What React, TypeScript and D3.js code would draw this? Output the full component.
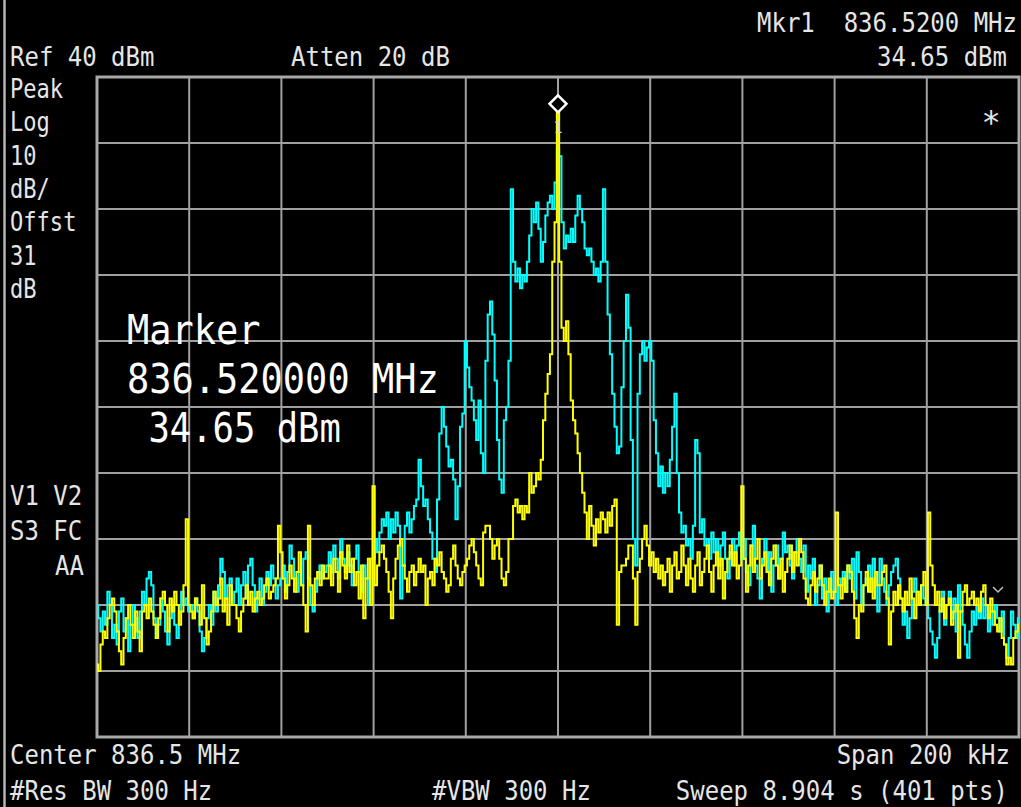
import React, { useEffect } from 'react';
import * as d3 from 'd3';

// ---- Data (dBm), 401 sweep points across 200 kHz span ----
const cyanTrace: number[] = [
  -40,-42,-44,-41,-43,-38,-40,-45,-43,-46,-41,-39,-44,-42,-47,-43,-40,-42,-45,-41,
  -38,-40,-36,-35,-37,-42,-45,-43,-39,-41,-44,-46,-42,-40,-43,-45,-41,-38,-40,-39,
  -41,-40,-42,-39,-41,-44,-47,-45,-42,-40,-43,-38,-41,-37,-33,-35,-39,-37,-36,-40,
  -38,-36,-40,-37,-35,-39,-34,-33,-37,-41,-39,-36,-40,-38,-35,-37,-34,-36,-39,-37,
  -36,-34,-38,-35,-31,-33,-36,-38,-35,-37,-33,-32,-36,-40,-41,-38,-36,-34,-36,-35,
  -34,-32,-35,-31,-33,-36,-30,-33,-35,-32,-34,-37,-33,-31,-35,-38,-34,-36,-40,-33,
  -33,-30,-32,-29,-27,-28,-26,-30,-27,-29,-26,-28,-39,-34,-28,-26,-29,-27,-25,-24,
  -18,-22,-25,-24,-27,-29,-33,-35,-24,-14,-10,-13,-16,-19,-18,-21,-27,-22,-13,-11,
  0,-4,-7,-9,-12,-15,-9,-17,-20,-3,4,6,1,-6,-15,-21,-23,-12,-10,-3,
  23,12,9,11,8,10,9,12,16,20,18,21,17,12,15,19,21,22,20,24,
  29,28,18,14,16,15,17,15,19,22,20,18,14,13,14,12,10,11,9,12,
  23,12,4,-2,-8,-13,-17,-16,-7,0,7,2,-15,-30,-34,-8,-2,0,-3,-1,
  0,-3,-12,-17,-22,-19,-23,-20,-22,-18,-13,-8,-20,-26,-29,-28,-31,-30,-33,-28,
  -15,-17,-29,-27,-31,-30,-33,-29,-32,-30,-34,-31,-29,-33,-36,-32,-30,-34,-31,-29,
  -33,-30,-35,-37,-31,-28,-34,-36,-39,-33,-30,-35,-32,-38,-34,-31,-36,-33,-29,-32,
  -31,-34,-36,-32,-30,-33,-35,-31,-38,-34,-36,-33,-40,-37,-34,-39,-36,-41,-38,-35,
  -38,-40,-36,-37,-35,-38,-34,-36,-33,-39,-32,-35,-40,-37,-36,-34,-38,-33,-35,-41,
  -33,-36,-38,-40,-37,-35,-34,-33,-36,-39,-43,-41,-45,-42,-38,-36,-38,-40,-37,-39,
  -40,-42,-44,-46,-48,-45,-41,-38,-43,-40,-38,-42,-39,-44,-37,-41,-43,-46,-48,-44,
  -41,-43,-40,-42,-39,-42,-40,-44,-41,-43,-40,-42,-44,-41,-46,-48,-45,-41,-43,-45,
  -42,
];

const yellowTrace: number[] = [
  -49,-50,-46,-44,-45,-42,-40,-39,-41,-44,-47,-49,-45,-42,-40,-43,-45,-41,-44,-47,
  -41,-40,-42,-39,-41,-43,-45,-42,-39,-38,-40,-44,-39,-41,-38,-40,-43,-41,-37,-27,
  -40,-41,-42,-39,-40,-43,-37,-42,-46,-44,-41,-38,-40,-39,-36,-41,-39,-43,-37,-40,
  -40,-42,-44,-41,-39,-37,-40,-38,-41,-39,-38,-40,-39,-37,-36,-39,-38,-37,-36,-28,
  -32,-36,-39,-37,-34,-36,-38,-35,-32,-37,-40,-44,-28,-37,-40,-36,-35,-37,-34,-36,
  -36,-34,-37,-33,-35,-38,-32,-34,-36,-31,-35,-33,-37,-35,-39,-34,-42,-36,-33,-40,
  -22,-37,-34,-32,-31,-33,-35,-38,-42,-36,-33,-31,-30,-34,-36,-38,-35,-34,-37,-35,
  -33,-35,-34,-40,-36,-35,-37,-33,-34,-32,-35,-36,-38,-37,-33,-31,-34,-36,-37,-35,
  -34,-33,-31,-30,-32,-34,-36,-37,-29,-28,-28,-30,-33,-31,-30,-33,-36,-37,-35,-30,
  -30,-25,-24,-26,-25,-27,-25,-26,-20,-23,-22,-20,-21,-18,-12,-8,-5,-2,12,18,
  34.65,12,2,0,3,-2,-9,-12,-14,-17,-20,-23,-26,-30,-25,-28,-31,-27,-29,-26,
  -27,-29,-26,-28,-25,-24,-43,-35,-34,-34,-33,-31,-31,-36,-43,-35,-33,-30,-28,-31,
  -34,-32,-35,-33,-36,-34,-37,-35,-33,-38,-34,-32,-36,-35,-31,-34,-37,-33,-36,-38,
  -34,-32,-37,-35,-33,-31,-35,-38,-34,-32,-36,-33,-39,-35,-33,-31,-34,-32,-36,-34,
  -22,-33,-38,-34,-31,-35,-33,-30,-36,-34,-32,-35,-37,-33,-31,-34,-36,-33,-38,-35,
  -33,-31,-35,-32,-34,-30,-32,-36,-39,-40,-37,-35,-38,-36,-34,-37,-40,-38,-36,-39,
  -38,-26,-37,-39,-36,-38,-34,-35,-38,-42,-45,-40,-41,-37,-35,-38,-36,-39,-35,-37,
  -37,-35,-34,-39,-46,-41,-38,-40,-37,-39,-41,-38,-40,-36,-39,-42,-38,-40,-37,-35,
  -40,-26,-34,-37,-40,-38,-41,-39,-42,-40,-39,-43,-41,-40,-48,-41,-38,-37,-40,-39,
  -38,-40,-39,-41,-38,-37,-40,-42,-39,-41,-43,-44,-42,-45,-46,-49,-48,-49,-45,-44,
  -43,
];

const spanKHz: [number, number] = [-100, 100];
const levelRange: [number, number] = [-60, 40];
const gridFreqs = d3.range(-80, 81, 20);
const gridLevels = d3.range(-50, 31, 10);
const markerIndex = 200;

const topLeft = ['Ref 40 dBm', 'Atten 20 dB'];
const topRight = ['Mkr1  836.5200 MHz', '34.65 dBm'];
const sideLabels = ['Peak', 'Log', '10', 'dB/', 'Offst', '31', 'dB'];
const statusLabels = ['V1 V2', 'S3 FC', 'AA'];
const markerLines = ['Marker', '836.520000 MHz', ' 34.65 dBm'];
const bottomLabels = ['Center 836.5 MHz', 'Span 200 kHz', '#Res BW 300 Hz', '#VBW 300 Hz', 'Sweep 8.904 s (401 pts)'];

const W = 1021;
const H = 807;
const FONT = "'DejaVu Sans Mono', 'Liberation Mono', monospace";
const TXT = '#e6e6e6';

const x = d3.scaleLinear().domain(spanKHz).range([97, 1019]);
const y = d3.scaleLinear().domain(levelRange).range([737, 77]);
const freqOf = (i: number) => spanKHz[0] + (i * (spanKHz[1] - spanKHz[0])) / 400;
const line = d3
  .line<number>()
  .x((_, i) => x(freqOf(i)))
  .y((d) => y(d))
  .curve(d3.curveStep);

type TProps = { x: number; y: number; size?: number; anchor?: string; fill?: string; sy?: number; sx?: number; children: React.ReactNode };
const T = ({ x, y, size = 24, anchor = 'start', fill = TXT, sy = 1.12, sx = 1, children }: TProps) => (
  <text
    transform={`translate(${x},${y}) scale(${sx},${sy})`}
    fontFamily={FONT}
    fontSize={size}
    textAnchor={anchor as any}
    fill={fill}
    xmlSpace="preserve"
    style={{ whiteSpace: 'pre' }}
  >
    {children}
  </text>
);

export default function App() {
  useEffect(() => {
    document.body.style.margin = '0';
    document.body.style.background = '#000';
  }, []);

  const mx = x(freqOf(markerIndex));
  const my = y(yellowTrace[markerIndex]);

  return (
    <svg width={W} height={H} style={{ display: 'block', background: '#000' }}>
      <rect x={0} y={0} width={W} height={H} fill="#000" />
      <line x1={4.5} y1={0} x2={4.5} y2={H} stroke="#b4b4b4" strokeWidth={2.5} />

      {/* grid */}
      {gridFreqs.map((f) => (
        <line key={'gx' + f} x1={x(f)} x2={x(f)} y1={y(levelRange[0])} y2={y(levelRange[1])} stroke="#a0a0a0" strokeWidth={2} />
      ))}
      {gridLevels.map((l) => (
        <line key={'gy' + l} x1={x(spanKHz[0])} x2={x(spanKHz[1])} y1={y(l)} y2={y(l)} stroke="#a0a0a0" strokeWidth={2} />
      ))}
      <rect
        x={x(spanKHz[0])}
        y={y(levelRange[1])}
        width={x(spanKHz[1]) - x(spanKHz[0])}
        height={y(levelRange[0]) - y(levelRange[1])}
        fill="none"
        stroke="#a8a8a8"
        strokeWidth={3}
      />

      {/* traces */}
      <path d={line(cyanTrace) || ''} fill="none" stroke="#00ffff" strokeWidth={2} />
      <path d={line(yellowTrace) || ''} fill="none" stroke="#ffff00" strokeWidth={2} />

      {/* marker */}
      <path
        d={`M${mx},${my - 17} L${mx + 8.5},${my - 8.5} L${mx},${my} L${mx - 8.5},${my - 8.5} Z`}
        fill="#000"
        stroke="#ffffff"
        strokeWidth={2.5}
      />
      <T x={mx} y={my + 21} size={15} anchor="middle" fill="#d8d8d8" sy={1}>1</T>

      <T x={991} y={133} size={32} anchor="middle" sy={1}>*</T>
      <polyline points="993,587 998,592 1003,587" fill="none" stroke="#bdbdbd" strokeWidth={1.5} />

      {/* header */}
      <T x={10} y={66}>{topLeft[0]}</T>
      <T x={291} y={66}>{topLeft[1]}</T>
      <T x={1017} y={32} anchor="end">{topRight[0]}</T>
      <T x={1007} y={66} anchor="end">{topRight[1]}</T>

      {/* side */}
      {sideLabels.map((s, i) => (
        <T key={s + i} x={10} y={98 + i * 33.3} sx={0.92}>{s}</T>
      ))}
      <T x={10} y={505}>{statusLabels[0]}</T>
      <T x={10} y={540}>{statusLabels[1]}</T>
      <T x={55} y={575}>{statusLabels[2]}</T>

      {/* marker readout */}
      <T x={127} y={344} size={37} fill="#ffffff" sy={1.1}>{markerLines[0]}</T>
      <T x={127} y={393} size={37} fill="#ffffff" sy={1.1}>{markerLines[1]}</T>
      <T x={127} y={442} size={37} fill="#ffffff" sy={1.1} sx={0.96}>{markerLines[2]}</T>

      {/* footer */}
      <T x={10} y={764}>{bottomLabels[0]}</T>
      <T x={1010} y={764} anchor="end">{bottomLabels[1]}</T>
      <T x={10} y={800}>{bottomLabels[2]}</T>
      <T x={432} y={800}>{bottomLabels[3]}</T>
      <T x={1008} y={800} anchor="end">{bottomLabels[4]}</T>
    </svg>
  );
}
